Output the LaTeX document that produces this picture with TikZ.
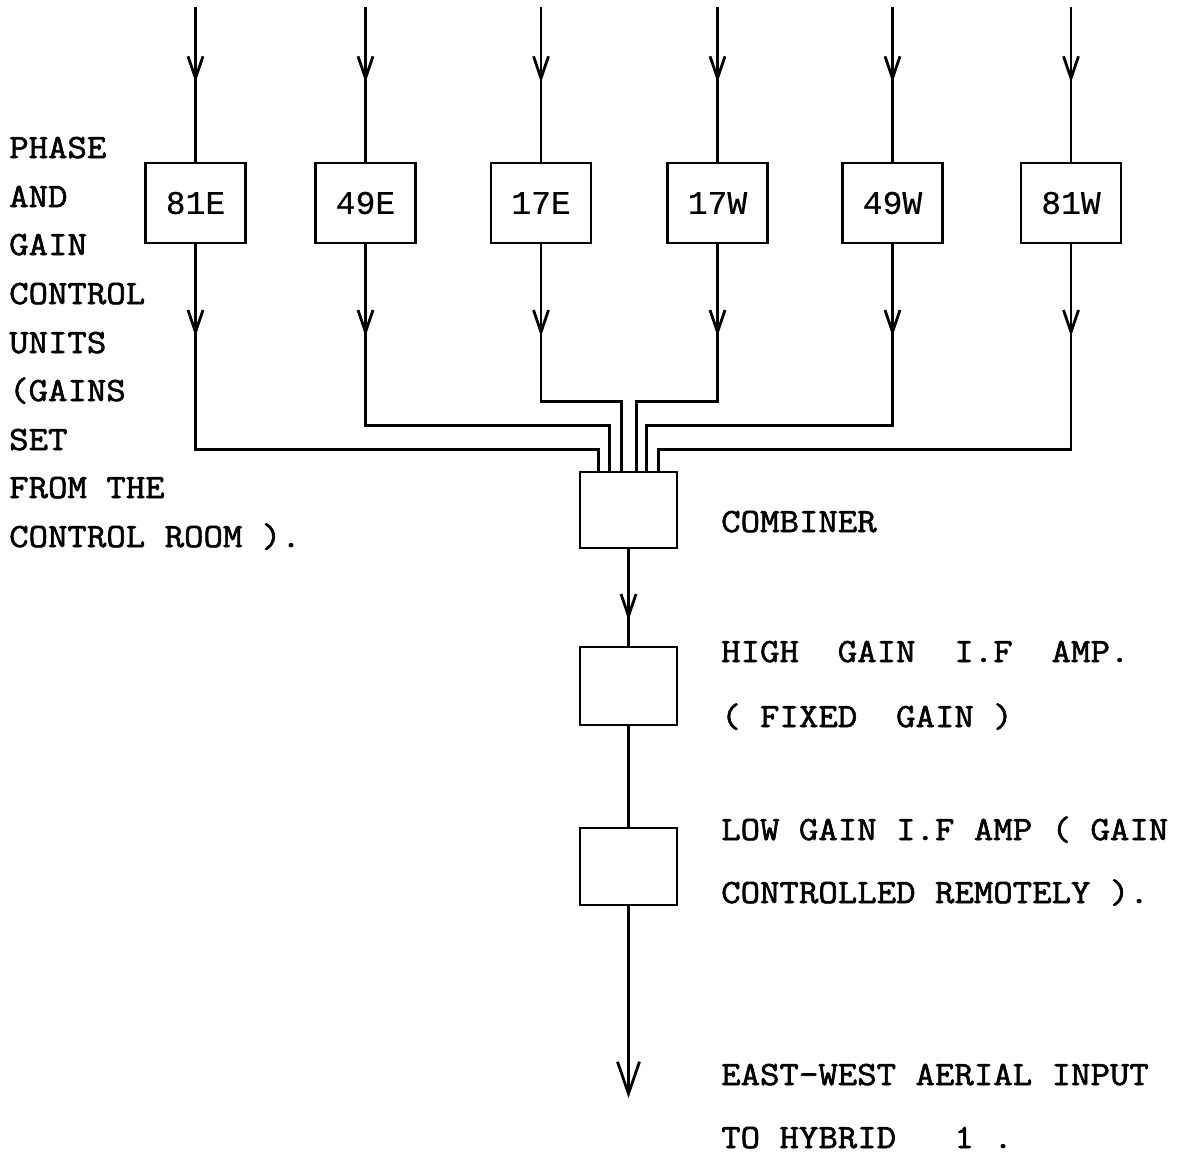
\documentclass[tikz,border=0pt]{standalone}
\usepackage{fontspec}
\newfontfamily\tw{Latin Modern Mono}[FakeBold=1.8,FakeStretch=1.11]
\newfontfamily\lb{Liberation Mono}[FakeBold=0.4]
\usetikzlibrary{arrows.meta,decorations.markings,calc}
\tikzset{
  conn/.style={line width=2.8pt},
  blk/.style={draw,line width=2.8pt,minimum width=100pt,minimum height=80pt,inner sep=0pt,font=\lb\fontsize{33}{36}\selectfont},
  unit/.style={draw,line width=2.8pt,minimum width=97pt,minimum height=76pt,inner sep=0pt},
  txt/.style={anchor=base west,inner sep=0pt,font=\tw\fontsize{34}{40}\selectfont},
  tipsmall/.tip={Straight Barb[length=22pt,width=15pt]},
  tipbig/.tip={Straight Barb[length=32pt,width=22pt]},
  midarr/.style={postaction={decorate},decoration={markings,mark=at position #1 with {\arrow{tipsmall}}}},
}
\begin{document}
\begin{tikzpicture}[x=1pt,y=-1pt]
\useasboundingbox (0,0) rectangle (1183,1154);
% phase and gain control units
\node[blk] (b81E) at (195.5,203) {81E};
\node[blk] (b49E) at (365.5,203) {49E};
\node[blk] (b17E) at (541,203) {17E};
\node[blk] (b17W) at (717.5,203) {17W};
\node[blk] (b49W) at (892.5,203) {49W};
\node[blk] (b81W) at (1071,203) {81W};
% chain
\node[unit] (cmb) at (628.5,510) {};
\node[unit,minimum height=78pt] (hg) at (628.5,686) {};
\node[unit,minimum height=77pt] (lg) at (628.5,866.5) {};
\coordinate (outp) at (628.5,1098);
% inputs
\foreach \n in {81E,49E,17E,17W,49W,81W}{
  \path (b\n.north) ++(0,-155) coordinate (t\n);
  \draw[conn,midarr=76pt] (t\n) -- (b\n.north);
}
% combiner entry points
\coordinate (i81E) at ($(cmb.north west)+(20,0)$);
\coordinate (i49E) at ($(cmb.north west)+(31,0)$);
\coordinate (i17E) at ($(cmb.north west)+(43,0)$);
\coordinate (i17W) at ($(cmb.north west)+(58,0)$);
\coordinate (i49W) at ($(cmb.north west)+(68,0)$);
\coordinate (i81W) at ($(cmb.north west)+(80,0)$);
\draw[conn,midarr=92pt] (b81E.south) |- ($(i81E)+(0,-21)$) -- (i81E);
\draw[conn,midarr=92pt] (b49E.south) |- ($(i49E)+(0,-45)$) -- (i49E);
\draw[conn,midarr=92pt] (b17E.south) |- ($(i17E)+(0,-69)$) -- (i17E);
\draw[conn,midarr=92pt] (b17W.south) |- ($(i17W)+(0,-69)$) -- (i17W);
\draw[conn,midarr=92pt] (b49W.south) |- ($(i49W)+(0,-45)$) -- (i49W);
\draw[conn,midarr=92pt] (b81W.south) |- ($(i81W)+(0,-21)$) -- (i81W);
% chain connectors
\draw[conn,midarr=71pt] (cmb.south) -- (hg.north);
\draw[conn] (hg.south) -- (lg.north);
\draw[conn,-{tipbig}] (lg.south) -- (outp);
% left labels
\node[txt] (l1) at (9,158) {PHASE};
\node[txt] (l2) at (9,207) {AND};
\node[txt] (l3) at (9,255) {GAIN};
\node[txt] (l4) at (9,304) {CONTROL};
\node[txt] (l5) at (9,353) {UNITS};
\node[txt] (l6) at (9,401) {(GAINS};
\node[txt] (l7) at (9,450) {SET};
\node[txt] (l8) at (9,498) {FROM THE};
\node[txt] (l9) at (9,547) {CONTROL ROOM ).};
% right labels
\node[txt] (r1) at (721,532) {COMBINER};
\node[txt] (r2) at (721,662) {HIGH\ \ GAIN\ \ I.F\ \ AMP.};
\node[txt] (r3) at (721,727) {( FIXED\ \ GAIN )};
\node[txt] (r4) at (721,840) {LOW GAIN I.F AMP ( GAIN};
\node[txt] (r5) at (721,903) {CONTROLLED REMOTELY ).};
\node[txt] (r6) at (721,1085) {EAST-WEST AERIAL INPUT};
\node[txt] (r7) at (721,1148) {TO HYBRID\ \ \ 1 .};
\end{tikzpicture}
\end{document}
